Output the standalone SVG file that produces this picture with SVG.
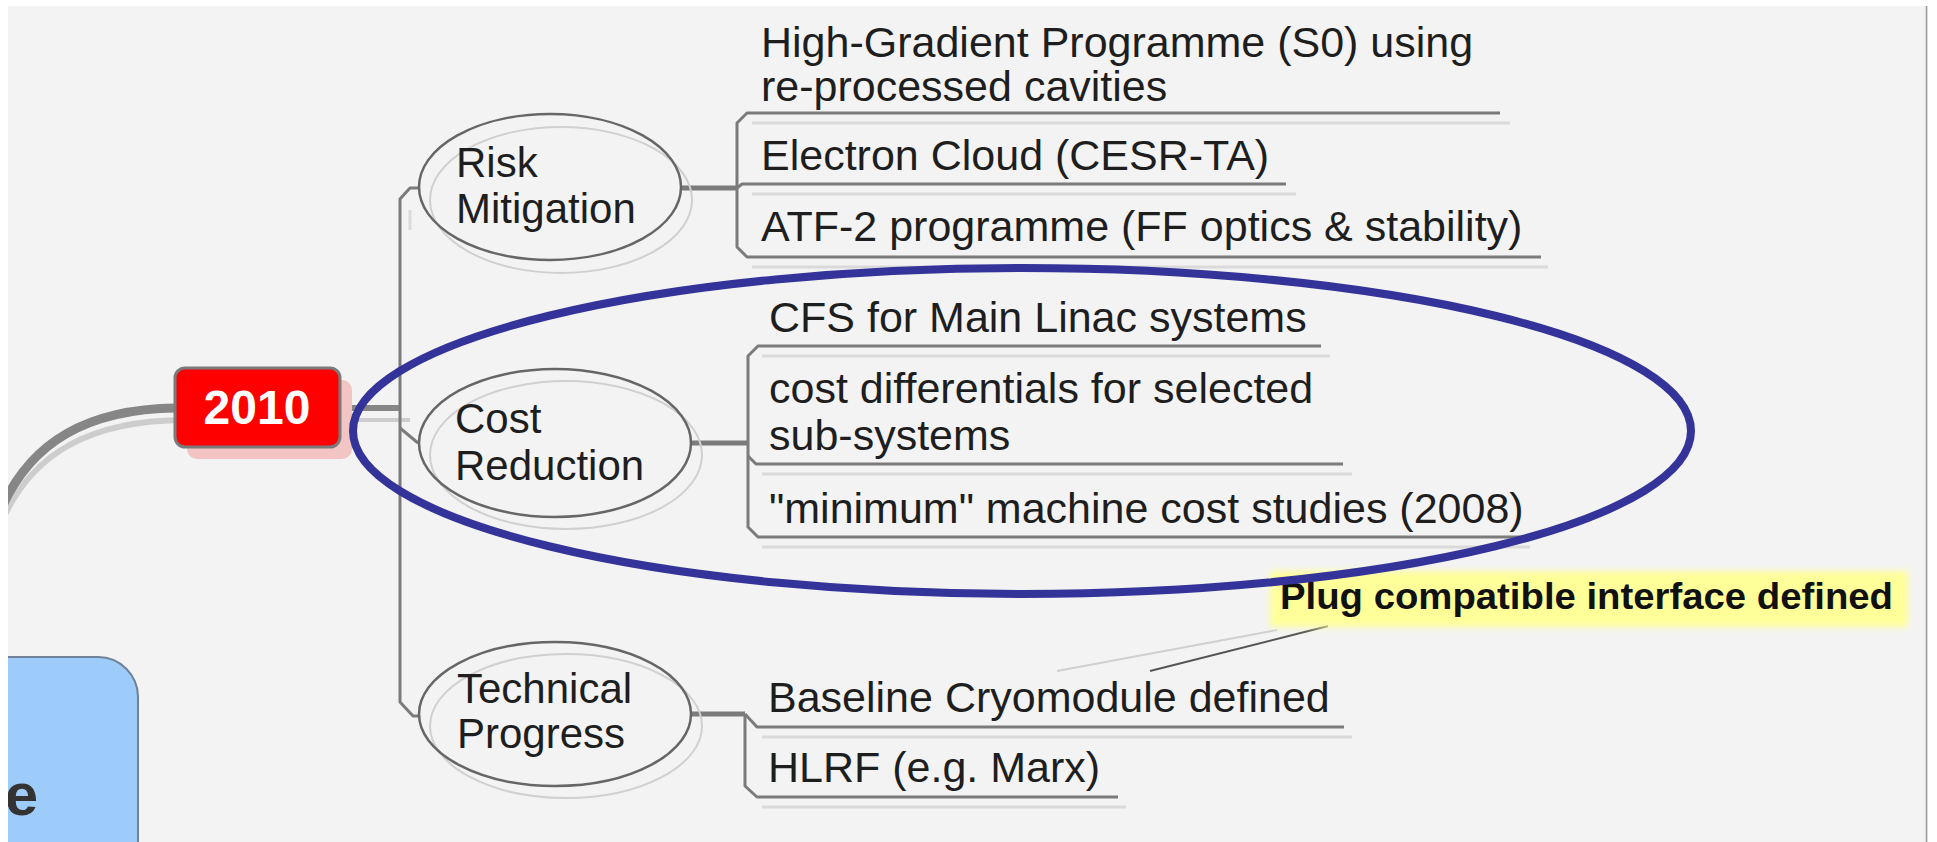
<svg xmlns="http://www.w3.org/2000/svg" width="1937" height="842" viewBox="0 0 1937 842">
  <defs>
    <filter id="soft" x="-5%" y="-20%" width="110%" height="140%">
      <feGaussianBlur stdDeviation="3"/>
    </filter>
    <style>
      .conn { fill: none; stroke: #7b7b7b; stroke-width: 3; stroke-linejoin: round; }
      .thick { fill: none; stroke: #7b7b7b; stroke-width: 5; }
      .shade { fill: none; stroke: #dadada; stroke-width: 3; }
      .ell { fill: none; stroke: #666; stroke-width: 2.5; }
      .ellsh { fill: none; stroke: #d0d0d0; stroke-width: 2; }
      .lbl { font-family: "Liberation Sans", Arial, sans-serif; font-size: 42px; fill: #1e1e1e; }
      .item { font-family: "Liberation Sans", Arial, sans-serif; font-size: 43px; fill: #1e1e1e; }
    </style>
  </defs>

  <!-- page -->
  <rect x="0" y="0" width="1937" height="842" fill="#f3f3f3"/>

  <!-- left blue card (partly off-page) -->
  <g id="card">
    <rect x="-60" y="657" width="198" height="260" rx="40" fill="#9dcbfa" stroke="#6f8297" stroke-width="2"/>
    <text x="38" y="815" text-anchor="end" font-family="Liberation Sans, Arial, sans-serif" font-weight="bold" font-size="60" fill="#333">e</text>
  </g>

  <!-- connectors -->
  <g id="connectors">
    <!-- branch into 2010 -->
    <path d="M0,526 C30,452 92,420 186,420" fill="none" stroke="#cdcdcd" stroke-width="6"/>
    <path d="M0,512 C30,440 90,409 176,408" fill="none" stroke="#868686" stroke-width="9"/>
    <!-- 2010 to trunk -->
    <line x1="352" y1="420" x2="410" y2="420" stroke="#cdcdcd" stroke-width="4"/>
    <line x1="340" y1="408" x2="400" y2="408" stroke="#868686" stroke-width="6"/>
    <!-- trunk -->
    <path class="conn" d="M420,188 L410,188 L400,199 L400,702 L413,716 L420,716"/>
    <path class="conn" d="M400,428 L418,443"/>
    <path class="shade" d="M410,210 L410,230"/>

    <!-- Risk Mitigation children -->
    <line class="thick" x1="682" y1="188" x2="738" y2="188"/>
    <path class="shade" d="M752,123 L1510,123"/>
    <path class="shade" d="M752,194 L1296,194"/>
    <path class="shade" d="M752,267 L1548,267"/>
    <path class="conn" d="M1500,113 L747,113 L737,123 L737,247 L747,257 L1541,257"/>
    <path class="conn" d="M737,188 L742,184 L1286,184"/>

    <!-- Cost Reduction children -->
    <line class="thick" x1="691" y1="443" x2="749" y2="443"/>
    <path class="shade" d="M762,356 L1330,356"/>
    <path class="shade" d="M762,474 L1352,474"/>
    <path class="shade" d="M762,547 L1530,547"/>
    <path class="conn" d="M1321,346 L758,346 L748,356 L748,527 L758,537 L1522,537"/>
    <path class="conn" d="M748,456 L756,464 L1343,464"/>

    <!-- Technical Progress children -->
    <line class="thick" x1="691" y1="714" x2="745" y2="714"/>
    <path class="shade" d="M762,737 L1352,737"/>
    <path class="shade" d="M762,807 L1126,807"/>
    <path class="conn" d="M745,714 L757,727 L1344,727"/>
    <path class="conn" d="M745,714 L745,786 L757,797 L1118,797"/>

    <!-- callout leaders -->
    <line x1="1057" y1="671" x2="1277" y2="630" stroke="#cfcfcf" stroke-width="2"/>
    <line x1="1150" y1="671" x2="1328" y2="626" stroke="#555" stroke-width="2"/>
  </g>

  <!-- 2010 -->
  <g id="n2010">
    <rect x="187" y="380" width="165" height="79" rx="10" fill="#f2c4c4"/>
    <rect x="175" y="368" width="165" height="79" rx="10" fill="#ff0000" stroke="#7a7a7a" stroke-width="3"/>
    <text x="257" y="424" text-anchor="middle" font-family="Liberation Sans, Arial, sans-serif" font-weight="bold" font-size="48" fill="#ffffff">2010</text>
  </g>

  <!-- Risk Mitigation -->
  <g id="nRisk">
    <ellipse class="ellsh" cx="561" cy="200" rx="131" ry="73"/>
    <ellipse class="ell" cx="550" cy="187" rx="131" ry="73"/>
    <text class="lbl" x="456" y="177">Risk</text>
    <text class="lbl" x="456" y="223">Mitigation</text>
  </g>
  <g id="nHighGradient">
    <text class="item" x="761" y="57">High-Gradient Programme (S0) using</text>
    <text class="item" x="761" y="101">re-processed cavities</text>
  </g>
  <g id="nElectronCloud">
    <text class="item" x="761" y="170">Electron Cloud (CESR-TA)</text>
  </g>
  <g id="nATF2">
    <text class="item" x="761" y="241">ATF-2 programme (FF optics &amp; stability)</text>
  </g>

  <!-- Cost Reduction -->
  <g id="nCost">
    <ellipse class="ellsh" cx="566" cy="455" rx="136" ry="74"/>
    <ellipse class="ell" cx="555" cy="443" rx="136" ry="74"/>
    <text class="lbl" x="455" y="433">Cost</text>
    <text class="lbl" x="455" y="480">Reduction</text>
  </g>
  <g id="nCFS">
    <text class="item" x="769" y="332">CFS for Main Linac systems</text>
  </g>
  <g id="nCostDiff">
    <text class="item" x="769" y="403">cost differentials for selected</text>
    <text class="item" x="769" y="450">sub-systems</text>
  </g>
  <g id="nMinimum">
    <text class="item" x="769" y="523">"minimum" machine cost studies (2008)</text>
  </g>

  <!-- Technical Progress -->
  <g id="nTech">
    <ellipse class="ellsh" cx="566" cy="726" rx="136" ry="72"/>
    <ellipse class="ell" cx="555" cy="714" rx="136" ry="72"/>
    <text class="lbl" x="457" y="703">Technical</text>
    <text class="lbl" x="457" y="748">Progress</text>
  </g>
  <g id="nBaseline">
    <text class="item" x="768" y="712">Baseline Cryomodule defined</text>
  </g>
  <g id="nHLRF">
    <text class="item" x="768" y="782">HLRF (e.g. Marx)</text>
  </g>

  <!-- callout -->
  <g id="nPlug">
    <rect x="1270" y="571" width="638" height="56" fill="#ffff99" filter="url(#soft)"/>
    <text x="1280" y="609" font-family="Liberation Sans, Arial, sans-serif" font-weight="bold" font-size="36" fill="#111" textLength="613" lengthAdjust="spacingAndGlyphs">Plug compatible interface defined</text>
  </g>

  <!-- highlight ring around the cost group -->
  <g id="ring">
    <ellipse cx="1022" cy="431" rx="669" ry="163" fill="none" stroke="#333399" stroke-width="8"/>
  </g>

  <!-- page margins -->
  <rect x="0" y="0" width="1937" height="6" fill="#ffffff"/>
  <rect x="0" y="0" width="8" height="842" fill="#ffffff"/>
  <line x1="1926.5" y1="6" x2="1926.5" y2="842" stroke="#9a9a9a" stroke-width="1.5"/>
  <rect x="1928" y="0" width="9" height="842" fill="#ffffff"/>
</svg>
